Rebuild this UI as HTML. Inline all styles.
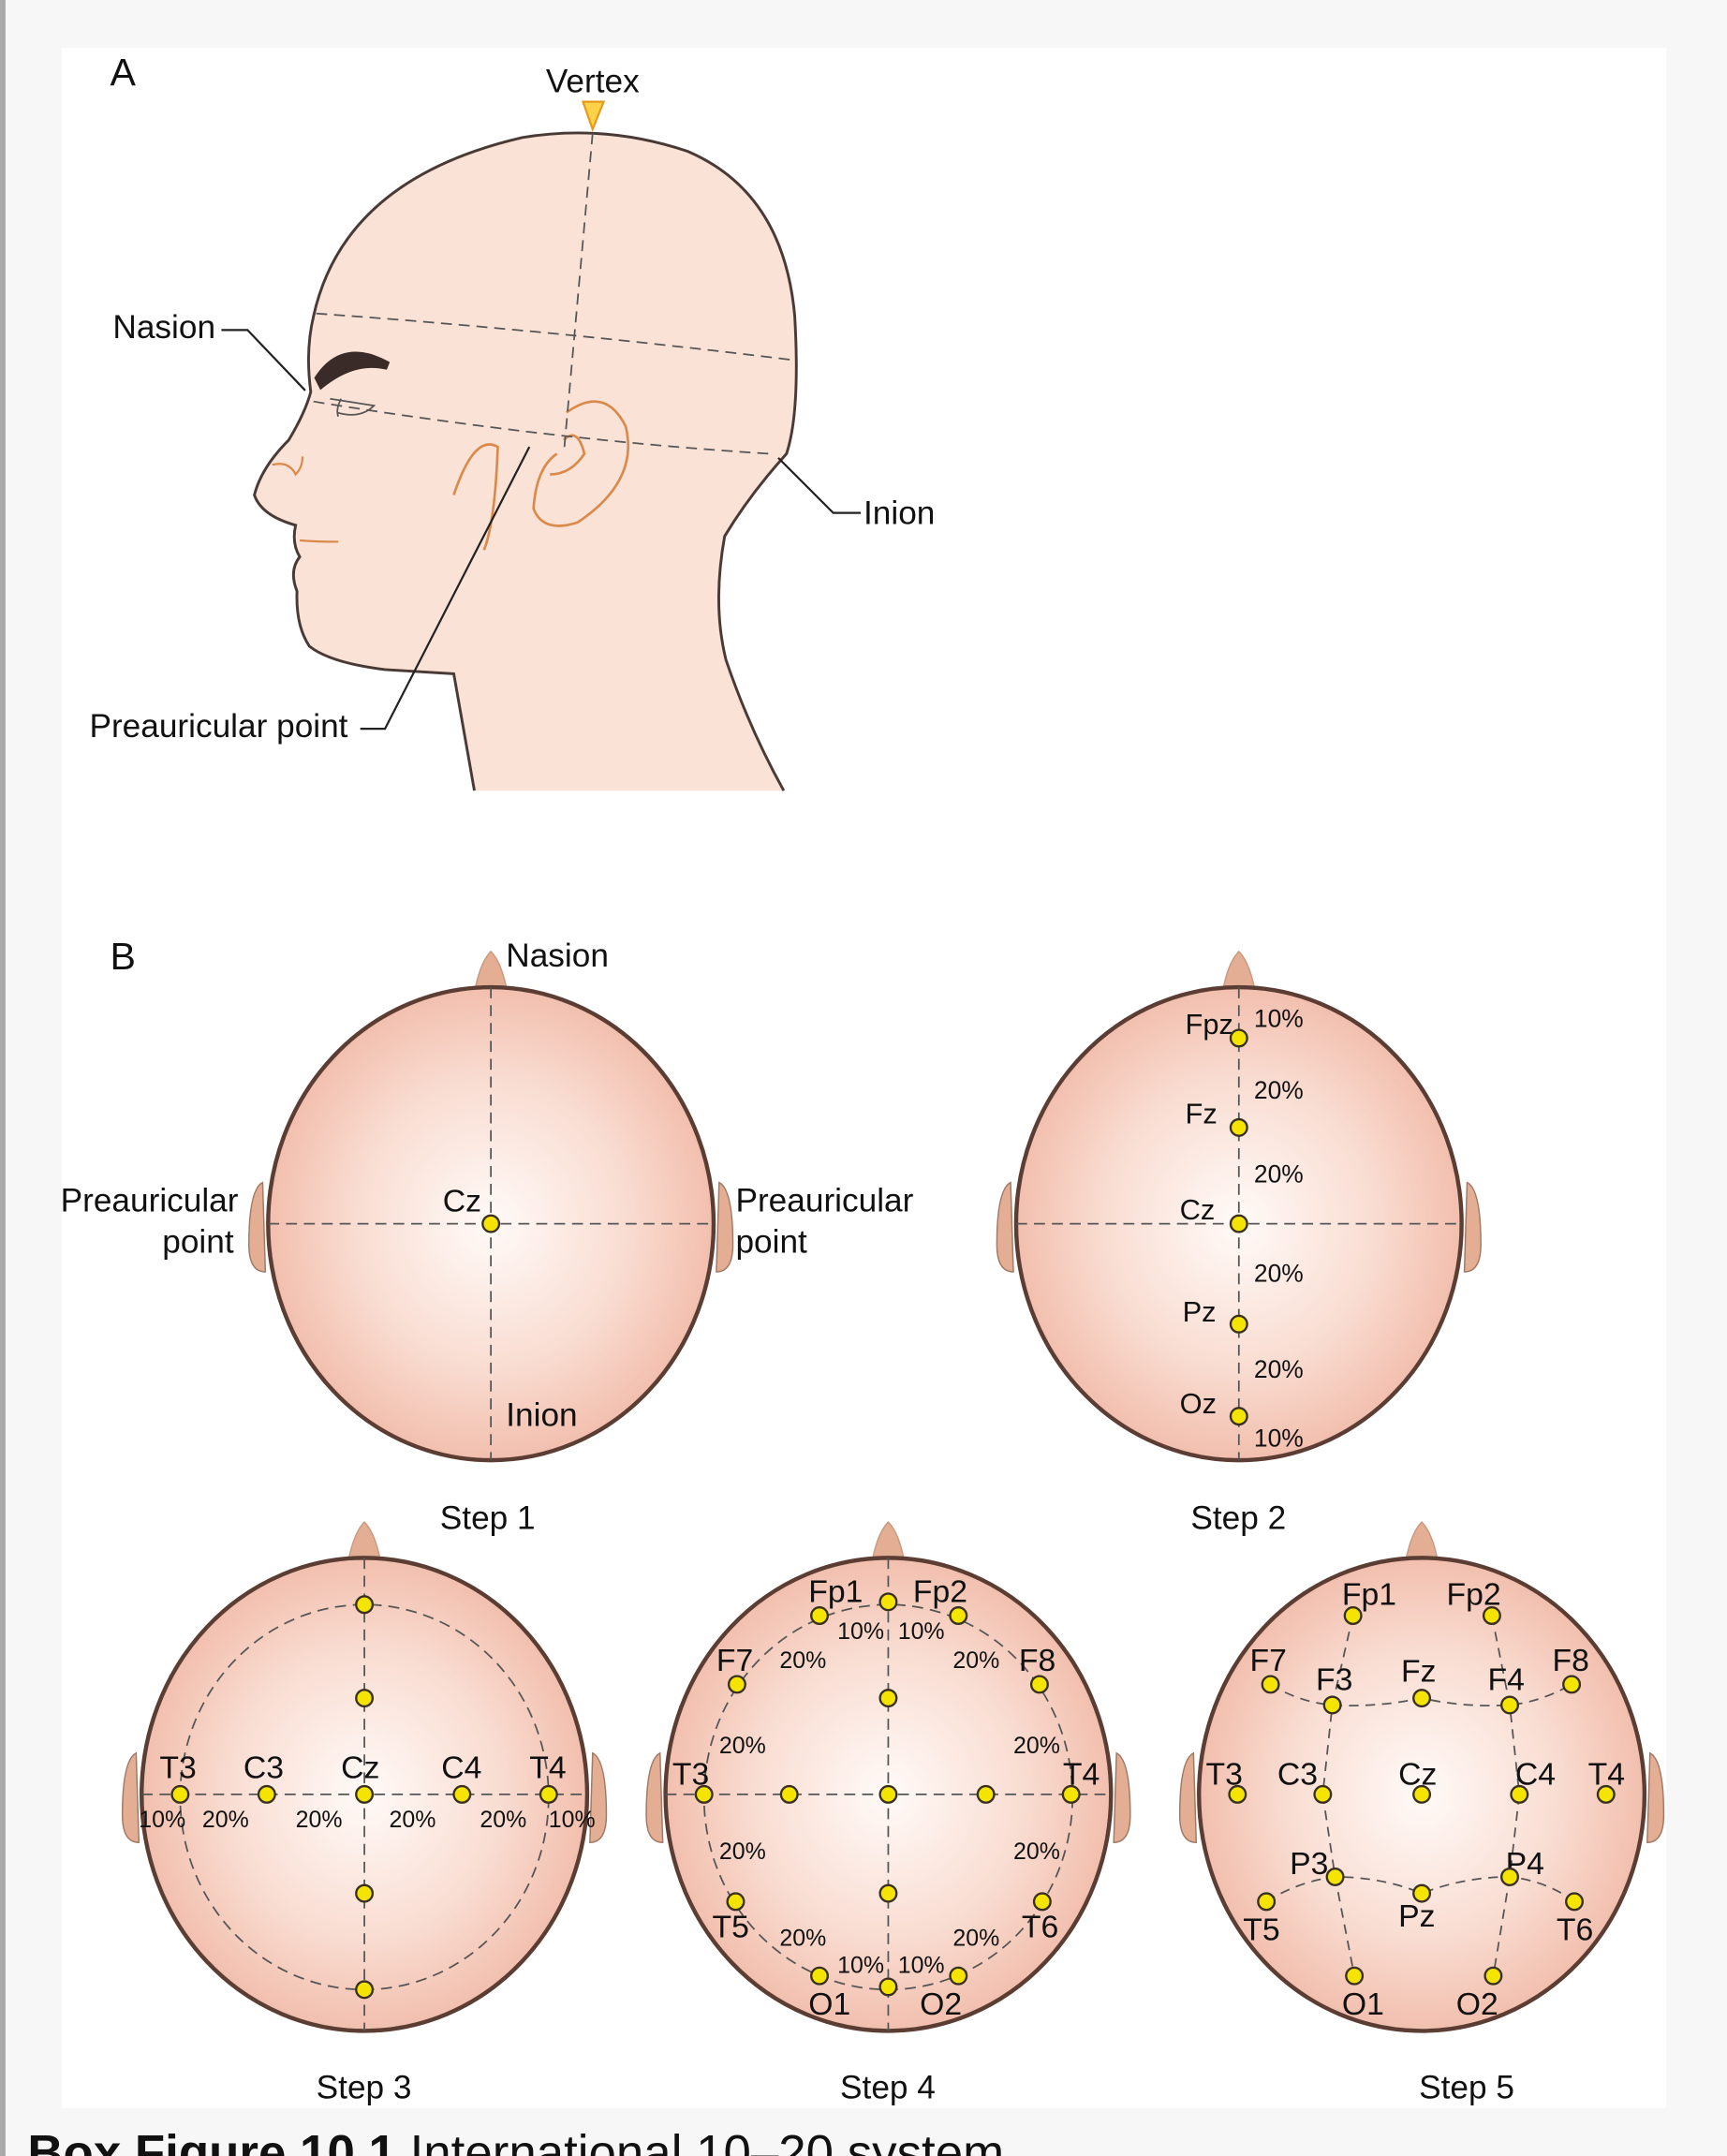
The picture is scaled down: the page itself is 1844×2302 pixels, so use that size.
<!DOCTYPE html>
<html><head><meta charset="utf-8"><style>
html,body{margin:0;padding:0;background:#f7f7f7;}
svg{display:block;}
text{font-family:"Liberation Sans",sans-serif;fill:#111;}
</style></head><body>
<svg width="1844" height="2302" viewBox="0 0 1256 1568" xmlns="http://www.w3.org/2000/svg">
<defs>
<radialGradient id="g" cx="0.5" cy="0.5" r="0.5">
<stop offset="0" stop-color="#fffaf8"/><stop offset="0.6" stop-color="#f9ddd2"/><stop offset="1" stop-color="#f2bfae"/>
</radialGradient>
<g id="head">
<path d="M-12,-168 Q-8,-190 0,-198 Q8,-190 12,-168 Z" fill="#e3ae94" stroke="#c99a80" stroke-width="1"/>
<path d="M-166,-30 Q-176,-25 -176,15 Q-176,35 -164,35 Z" fill="#e3ae94" stroke="#a07a66" stroke-width="1"/>
<path d="M166,-30 Q176,-25 176,15 Q176,35 164,35 Z" fill="#e3ae94" stroke="#a07a66" stroke-width="1"/>
<ellipse cx="0" cy="0" rx="162" ry="172" fill="url(#g)" stroke="#5b3d33" stroke-width="3"/>
</g>
</defs>
<rect x="0" y="0" width="1256" height="1568" fill="#f7f7f7"/>
<rect x="0" y="0" width="4" height="1568" fill="#a9a9a9"/>
<rect x="45" y="35" width="1167" height="1498" fill="#fff"/>

<!-- Panel A -->
<text x="80" y="62" font-size="28">A</text>
<text x="397" y="67" font-size="24">Vertex</text>
<path d="M424,74 L439,74 L431,94 Z" fill="#ffd24a" stroke="#e69a1a" stroke-width="1.5"/>
<path d="M345,575 L330,490 L280,487 Q240,482 225,470 Q215,455 216,430 Q210,415 218,405 Q212,395 215,382 Q190,375 185,360 Q190,340 210,320 Q222,300 226,285 Q222,255 228,230 Q250,130 380,100 Q440,90 500,110 Q570,140 578,230 Q582,300 572,330 Q545,360 527,390 Q518,440 528,480 Q545,530 570,575" fill="#fbe2d6" stroke="#4a3a36" stroke-width="2"/>
<path d="M232,275 Q250,248 282,266 Q258,260 234,279 Z" fill="#3a2a28" stroke="#3a2a28" stroke-width="6"/>
<path d="M240,290 L272,295 Q262,305 245,300 M248,290 Q244,298 246,303" fill="none" stroke="#555" stroke-width="1.2"/>
<path d="M198,338 Q210,335 215,345 Q220,340 220,332" fill="none" stroke="#d98a4a" stroke-width="1.5"/>
<path d="M218,393 Q230,394 246,394" fill="none" stroke="#d98a4a" stroke-width="1.5"/>
<path d="M412,300 Q440,280 455,310 Q465,350 420,380 Q395,388 388,370 Q390,340 405,330 M410,320 Q420,310 425,330 Q415,345 400,345" fill="none" stroke="#d98a4a" stroke-width="1.8"/>
<path d="M330,360 Q345,315 362,325 Q360,380 352,400" fill="none" stroke="#d98a4a" stroke-width="1.8"/>
<g fill="none" stroke="#555" stroke-width="1.2" stroke-dasharray="8,5">
<path d="M431,97 L410,330"/>
<path d="M230,228 Q400,240 578,262"/>
<path d="M228,292 Q400,320 560,330"/>
</g>
<text x="82" y="246" font-size="24">Nasion</text>
<path d="M161,240 L180,240 L222,284" fill="none" stroke="#222" stroke-width="1.5"/>
<text x="628" y="381" font-size="24">Inion</text>
<path d="M566,333 L606,373 L626,373" fill="none" stroke="#222" stroke-width="1.5"/>
<text x="65" y="536" font-size="24">Preauricular point</text>
<path d="M262,530 L280,530 L385,325" fill="none" stroke="#222" stroke-width="1.5"/>

<!-- Panel B -->
<text x="80" y="705" font-size="28">B</text>

<!-- Step 1 -->
<g transform="translate(357,890)"><use href="#head"/></g>
<g fill="none" stroke="#555" stroke-width="1.2" stroke-dasharray="8,5">
<path d="M357,718 L357,1062 M195,890 L519,890"/></g>
<text x="368" y="703" font-size="24">Nasion</text>
<text x="44" y="881" font-size="24">Preauricular</text>
<text x="118" y="911" font-size="24">point</text>
<text x="535" y="881" font-size="24">Preauricular</text>
<text x="535" y="911" font-size="24">point</text>
<text x="322" y="881" font-size="23">Cz</text>
<text x="368" y="1037" font-size="24">Inion</text>
<text x="320" y="1112" font-size="24">Step 1</text>

<!-- Step 2 -->
<g transform="translate(901,890)"><use href="#head"/></g>
<g fill="none" stroke="#555" stroke-width="1.2" stroke-dasharray="8,5">
<path d="M901,718 L901,1062 M739,890 L1063,890"/></g>
<g font-size="21"><text x="862" y="752">Fpz</text><text x="862" y="817">Fz</text><text x="858" y="887">Cz</text><text x="860" y="961">Pz</text><text x="858" y="1028">Oz</text></g>
<g font-size="18"><text x="912" y="747">10%</text><text x="912" y="799">20%</text><text x="912" y="860">20%</text><text x="912" y="932">20%</text><text x="912" y="1002">20%</text><text x="912" y="1052">10%</text></g>
<text x="866" y="1112" font-size="24">Step 2</text>

<!-- Step 3 -->
<g transform="translate(265,1305)"><use href="#head"/></g>
<g fill="none" stroke="#555" stroke-width="1.2" stroke-dasharray="8,5">
<path d="M265,1133 L265,1477 M103,1305 L427,1305"/>
<ellipse cx="265" cy="1307" rx="134" ry="140"/></g>
<g font-size="23"><text x="116" y="1293">T3</text><text x="177" y="1293">C3</text><text x="248" y="1293">Cz</text><text x="321" y="1293">C4</text><text x="385" y="1293">T4</text></g>
<g font-size="17"><text x="101" y="1329">10%</text><text x="147" y="1329">20%</text><text x="215" y="1329">20%</text><text x="283" y="1329">20%</text><text x="349" y="1329">20%</text><text x="399" y="1329">10%</text></g>
<text x="230" y="1526" font-size="24">Step 3</text>

<!-- Step 4 -->
<g transform="translate(646,1305)"><use href="#head"/></g>
<g fill="none" stroke="#555" stroke-width="1.2" stroke-dasharray="8,5">
<path d="M646,1133 L646,1477 M484,1305 L808,1305"/>
<ellipse cx="646" cy="1307" rx="134" ry="140"/></g>
<g font-size="23"><text x="588" y="1165">Fp1</text><text x="664" y="1165">Fp2</text><text x="521" y="1215">F7</text><text x="741" y="1215">F8</text><text x="489" y="1298">T3</text><text x="773" y="1298">T4</text><text x="518" y="1409">T5</text><text x="743" y="1409">T6</text><text x="588" y="1465">O1</text><text x="669" y="1465">O2</text></g>
<g font-size="17"><text x="609" y="1192">10%</text><text x="653" y="1192">10%</text><text x="567" y="1213">20%</text><text x="693" y="1213">20%</text><text x="523" y="1275">20%</text><text x="737" y="1275">20%</text><text x="523" y="1352">20%</text><text x="737" y="1352">20%</text><text x="567" y="1415">20%</text><text x="693" y="1415">20%</text><text x="609" y="1435">10%</text><text x="653" y="1435">10%</text></g>
<text x="611" y="1526" font-size="24">Step 4</text>

<!-- Step 5 -->
<g transform="translate(1034,1305)"><use href="#head"/></g>
<g fill="none" stroke="#555" stroke-width="1.2" stroke-dasharray="7,5">
<path d="M984,1175 L969,1240 L962,1305 L971,1365 L985,1437"/>
<path d="M1085,1175 L1098,1240 L1105,1305 L1098,1365 L1086,1437"/>
<path d="M924,1225 Q945,1238 969,1240 Q1000,1242 1034,1235 Q1065,1242 1098,1240 Q1120,1238 1143,1225"/>
<path d="M921,1383 Q945,1368 971,1365 Q1005,1365 1034,1377 Q1065,1365 1098,1365 Q1125,1368 1145,1383"/>
</g>
<g font-size="23"><text x="976" y="1167">Fp1</text><text x="1052" y="1167">Fp2</text><text x="909" y="1215">F7</text><text x="957" y="1229">F3</text><text x="1019" y="1223">Fz</text><text x="1082" y="1229">F4</text><text x="1129" y="1215">F8</text><text x="877" y="1298">T3</text><text x="929" y="1298">C3</text><text x="1017" y="1298">Cz</text><text x="1102" y="1298">C4</text><text x="1155" y="1298">T4</text><text x="938" y="1363">P3</text><text x="1095" y="1363">P4</text><text x="904" y="1411">T5</text><text x="1017" y="1401">Pz</text><text x="1132" y="1411">T6</text><text x="976" y="1465">O1</text><text x="1059" y="1465">O2</text></g>
<text x="1032" y="1526" font-size="24">Step 5</text>

<!-- electrodes -->
<g fill="#f5e400" stroke="#3a3020" stroke-width="1.6">
<circle cx="357" cy="890" r="6"/>
<circle cx="901" cy="755" r="6"/><circle cx="901" cy="820" r="6"/><circle cx="901" cy="890" r="6"/><circle cx="901" cy="963" r="6"/><circle cx="901" cy="1030" r="6"/>
<circle cx="265" cy="1167" r="6"/><circle cx="265" cy="1235" r="6"/><circle cx="265" cy="1305" r="6"/><circle cx="265" cy="1377" r="6"/><circle cx="265" cy="1447" r="6"/><circle cx="131" cy="1305" r="6"/><circle cx="194" cy="1305" r="6"/><circle cx="336" cy="1305" r="6"/><circle cx="399" cy="1305" r="6"/>
<circle cx="646" cy="1165" r="6"/><circle cx="596" cy="1175" r="6"/><circle cx="697" cy="1175" r="6"/><circle cx="536" cy="1225" r="6"/><circle cx="756" cy="1225" r="6"/><circle cx="512" cy="1305" r="6"/><circle cx="779" cy="1305" r="6"/><circle cx="535" cy="1383" r="6"/><circle cx="758" cy="1383" r="6"/><circle cx="596" cy="1437" r="6"/><circle cx="697" cy="1437" r="6"/><circle cx="646" cy="1445" r="6"/><circle cx="646" cy="1235" r="6"/><circle cx="574" cy="1305" r="6"/><circle cx="646" cy="1305" r="6"/><circle cx="717" cy="1305" r="6"/><circle cx="646" cy="1377" r="6"/>
<circle cx="984" cy="1175" r="6"/><circle cx="1085" cy="1175" r="6"/><circle cx="924" cy="1225" r="6"/><circle cx="969" cy="1240" r="6"/><circle cx="1034" cy="1235" r="6"/><circle cx="1098" cy="1240" r="6"/><circle cx="1143" cy="1225" r="6"/><circle cx="900" cy="1305" r="6"/><circle cx="962" cy="1305" r="6"/><circle cx="1034" cy="1305" r="6"/><circle cx="1105" cy="1305" r="6"/><circle cx="1168" cy="1305" r="6"/><circle cx="921" cy="1383" r="6"/><circle cx="971" cy="1365" r="6"/><circle cx="1034" cy="1377" r="6"/><circle cx="1098" cy="1365" r="6"/><circle cx="1145" cy="1383" r="6"/><circle cx="985" cy="1437" r="6"/><circle cx="1086" cy="1437" r="6"/>
</g>

<text x="20" y="1578" font-size="36" font-weight="bold">Box Figure 10.1 <tspan font-weight="normal">International 10–20 system</tspan></text>
</svg>
</body></html>
